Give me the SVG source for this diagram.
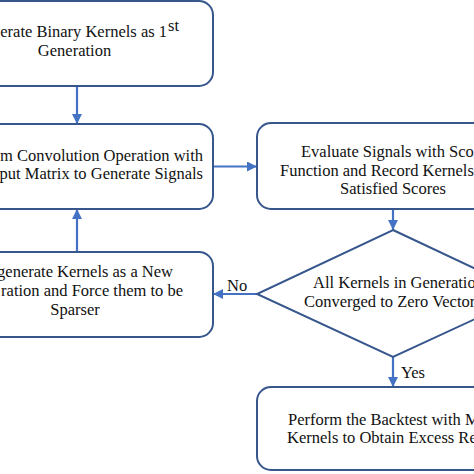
<svg xmlns="http://www.w3.org/2000/svg" width="474" height="474" viewBox="0 0 474 474">
<defs>
<marker id="ah" markerUnits="userSpaceOnUse" markerWidth="10" markerHeight="10" viewBox="0 0 10 10" refX="10" refY="5" orient="auto">
<path d="M0,0 L10,5 L0,10 Z" fill="#4472C4"/>
</marker>
</defs>
<style>
.box{fill:#fff;stroke:#36568C;stroke-width:2}
.t{font-family:'Liberation Serif','DejaVu Serif',serif;font-size:16.5px;fill:#111}
.e{text-anchor:end}
.m{text-anchor:middle}
.c{stroke:#4472C4;stroke-width:2.2;fill:none;marker-end:url(#ah)}
</style>
<rect width="474" height="474" fill="#fff"/>
<g id="connectors">
<line class="c" x1="77" y1="86" x2="77" y2="124"/>
<line class="c" x1="213" y1="166.5" x2="257" y2="166.5"/>
<line class="c" x1="393" y1="209" x2="393" y2="230"/>
<line class="c" x1="257" y1="294" x2="213" y2="294"/>
<line class="c" x1="393" y1="357" x2="393" y2="387"/>
<line class="c" x1="77" y1="252" x2="77" y2="209"/>
<text class="t" font-family="Liberation Serif" x="227" y="291">No</text>
<text class="t" font-family="Liberation Serif" x="401" y="378">Yes</text>
</g>
<g id="n1">
<rect class="box" x="-63" y="1" width="276" height="85" rx="14"/>
<text class="t e" font-family="Liberation Serif" x="167" y="37">erate Binary Kernels as 1</text>
<text class="t" font-family="Liberation Serif" x="168" y="31" font-size="10.5">st</text>
<text class="t m" font-family="Liberation Serif" x="74.5" y="56">Generation</text>
</g>
<g id="n2">
<rect class="box" x="-63" y="124" width="276" height="85" rx="14"/>
<text class="t e" font-family="Liberation Serif" x="203" y="161">m Convolution Operation with</text>
<text class="t e" font-family="Liberation Serif" x="203" y="179">put Matrix to Generate Signals</text>
</g>
<g id="n3">
<rect class="box" x="257" y="123" width="272" height="86" rx="14"/>
<text class="t" font-family="Liberation Serif" x="301" y="157">Evaluate Signals with Sco</text>
<text class="t" font-family="Liberation Serif" x="280" y="175.5">Function and Record Kernels</text>
<text class="t m" font-family="Liberation Serif" x="393" y="193.5">Satisfied Scores</text>
</g>
<g id="n4">
<polygon class="box" points="393,230 529,294 393,357 257,294"/>
<text class="t" font-family="Liberation Serif" x="313" y="287.5">All Kernels in Generatio</text>
<text class="t" font-family="Liberation Serif" x="304" y="306.5">Converged to Zero Vector</text>
</g>
<g id="n5">
<rect class="box" x="-63" y="252" width="276" height="85" rx="14"/>
<text class="t e" font-family="Liberation Serif" x="173" y="277">generate Kernels as a New</text>
<text class="t e" font-family="Liberation Serif" x="183" y="296">ration and Force them to be</text>
<text class="t m" font-family="Liberation Serif" x="75" y="315">Sparser</text>
</g>
<g id="n6">
<rect class="box" x="257" y="387" width="272" height="83" rx="14"/>
<text class="t" font-family="Liberation Serif" x="288" y="425">Perform the Backtest with M</text>
<text class="t" font-family="Liberation Serif" x="287" y="443">Kernels to Obtain Excess Re</text>
</g>
</svg>
